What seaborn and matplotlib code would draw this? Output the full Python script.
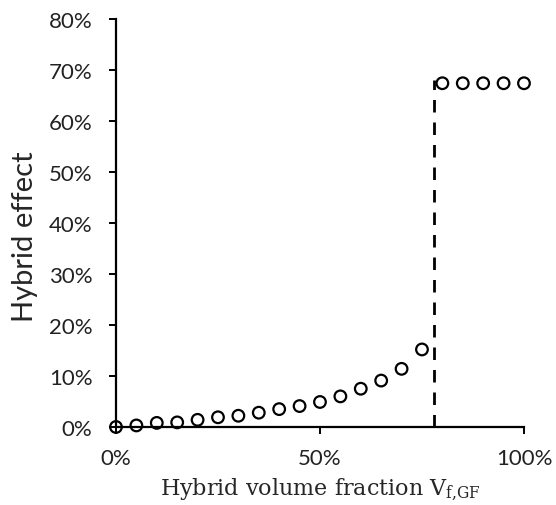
import numpy as np
import pandas as pd
import matplotlib
matplotlib.use("Agg")
import matplotlib.pyplot as plt
import seaborn as sns
from matplotlib.ticker import PercentFormatter

# hybrid volume fraction of GF and the hybrid effect
fraction = [0.00, 0.05, 0.10, 0.15, 0.20, 0.25, 0.30, 0.35, 0.40, 0.45,
            0.50, 0.55, 0.60, 0.65, 0.70, 0.75, 0.80, 0.85, 0.90, 0.95, 1.00]
effect = [0.000, 0.003, 0.008, 0.009, 0.014, 0.019, 0.022, 0.028, 0.035, 0.041,
          0.049, 0.060, 0.075, 0.091, 0.114, 0.152, 0.674, 0.674, 0.674, 0.674, 0.674]

# critical fraction (dashed line)
crit_x = [0.779, 0.779]
crit_y = [0.0, 0.68]

df = pd.DataFrame({"fraction": fraction, "effect": effect})

sns.set_style("ticks")
plt.rcParams["font.family"] = ["Lato", "DejaVu Sans"]
plt.rcParams["mathtext.fontset"] = "dejavuserif"

fig = plt.figure(figsize=(5.56, 5.06), dpi=100)
ax = fig.add_axes([0.2086, 0.1542, 0.7338, 0.8063])

sns.scatterplot(data=df, x="fraction", y="effect", ax=ax, marker="o", s=70,
                facecolor="none", edgecolor="black", linewidth=1.6, zorder=3,
                clip_on=False)
ax.plot(crit_x, crit_y, color="black", linestyle=(0, (4.5, 3.6)), linewidth=2.0)

ax.set_xlim(0, 1)
ax.set_ylim(0, 0.8)
ax.set_xticks([0, 0.5, 1.0])
ax.set_yticks(np.arange(0, 0.81, 0.1))
ax.xaxis.set_major_formatter(PercentFormatter(1.0, decimals=0))
ax.yaxis.set_major_formatter(PercentFormatter(1.0, decimals=0))
ax.tick_params(axis="both", direction="out", length=5, width=1.4, color="black",
               labelsize=16, labelcolor="#222222")
ax.tick_params(axis="y", pad=12)
ax.tick_params(axis="x", pad=10)
for side in ["top", "right"]:
    ax.spines[side].set_visible(False)
for side in ["left", "bottom"]:
    ax.spines[side].set_linewidth(1.6)
    ax.spines[side].set_color("black")

ax.set_ylabel("Hybrid effect", fontsize=21)
ax.yaxis.set_label_coords(-0.19, 0.47)
ax.set_xlabel(r"Hybrid volume fraction V$_{\mathrm{f{,}GF}}$", fontsize=16,
              family="DejaVu Serif", labelpad=5)

fig.savefig("out.png", dpi=100)
